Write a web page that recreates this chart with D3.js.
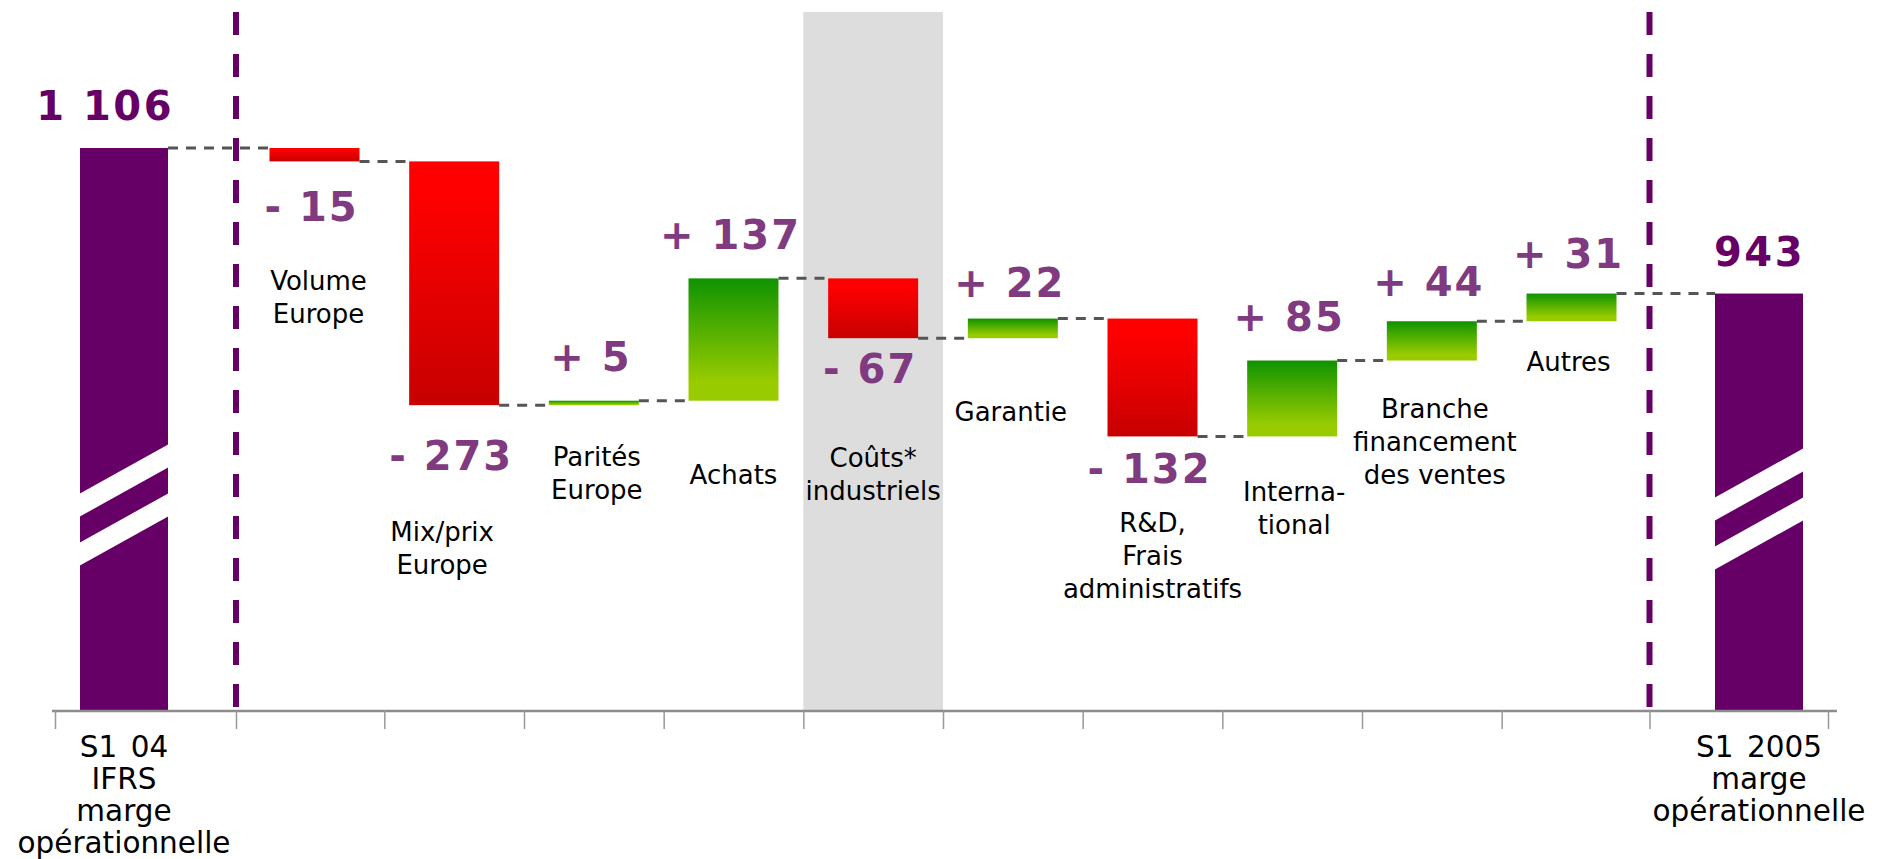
<!DOCTYPE html>
<html><head><meta charset="utf-8">
<script src="https://cdn.jsdelivr.net/npm/d3@7"></script>
<style>html,body{margin:0;padding:0;background:#fff;overflow:hidden}</style>
</head><body><svg id="chart" width="1887" height="859"></svg>
<script>
// ---------- DATA ----------
const startValue = 1106;
const endValue = 943;
const startCategory = ["S1 04", "IFRS", "marge", "opérationnelle"];
const endCategory = ["S1 2005", "marge", "opérationnelle"];
const stepCategories = [
  ["Volume", "Europe"],
  ["Mix/prix", "Europe"],
  ["Parités", "Europe"],
  ["Achats"],
  ["Coûts*", "industriels"],
  ["Garantie"],
  ["R&D,", "Frais", "administratifs"],
  ["Interna-", "tional"],
  ["Branche", "financement", "des ventes"],
  ["Autres"]
];
const stepValues = [-15, -273, 5, 137, -67, 22, -132, 85, 44, 31];
const highlightedStep = 4; // "Coûts* industriels" is shaded

// ---------- LAYOUT (styling only) ----------
const W = 1887, H = 859;
const axisY = 711;
const yFloor = 475.5;            // value at the broken axis baseline
const deltaLabelGap = [60, 65, 30, 29, 45, 22, 47, 30, 25, 26];
const catLabelGap = [129, 136, 61, 83, 129, 83, 96, 65, 57, 50];
const catLabelDx = [4, -12, 3, 0, 0, -2, 0, 2, 3, -3];
const purple = "#660066";
const labelPurple = "#7f3a80";
const font = "'DejaVu Sans', Verdana, sans-serif";

const fr = d3.formatLocale({decimal: ",", thousands: " ", grouping: [3], currency: ["", " €"]});
const fmtTotal = fr.format(",");
const fmtDelta = v => (v < 0 ? "- " : "+ ") + fmtTotal(Math.abs(v));

// running totals
const totals = [startValue];
stepValues.forEach(v => totals.push(totals[totals.length - 1] + v));

// scales
const x = d3.scaleLinear()
  .domain([-0.5, 0, 0.5, 1, 10, 10.5, 11, 11.5])
  .range([55, 124, 236, 314.5, 1571.5, 1649.5, 1759, 1828]);
const y = d3.scaleLinear().domain([yFloor, startValue]).range([axisY, 148]);

const svg = d3.select("#chart");
const defs = svg.append("defs");
const red = defs.append("linearGradient").attr("id", "gRed").attr("x1", 0).attr("y1", 0).attr("x2", 0).attr("y2", 1);
red.append("stop").attr("offset", "0").attr("stop-color", "#ff0000");
red.append("stop").attr("offset", "0.12").attr("stop-color", "#ff0000");
red.append("stop").attr("offset", "1").attr("stop-color", "#c80000");
const green = defs.append("linearGradient").attr("id", "gGreen").attr("x1", 0).attr("y1", 0).attr("x2", 0).attr("y2", 1);
green.append("stop").attr("offset", "0").attr("stop-color", "#0f9300");
green.append("stop").attr("offset", "0.85").attr("stop-color", "#99cc00");
green.append("stop").attr("offset", "1").attr("stop-color", "#99cc00");

// highlighted band
const hi = highlightedStep + 1;
svg.append("rect")
  .attr("x", x(hi - 0.5)).attr("y", 12)
  .attr("width", x(hi + 0.5) - x(hi - 0.5)).attr("height", axisY - 12)
  .attr("fill", "#dddddd");

// separators
[0.5, 10.5].forEach(p => {
  svg.append("line")
    .attr("x1", x(p)).attr("x2", x(p)).attr("y1", 12).attr("y2", axisY - 3)
    .attr("stroke", purple).attr("stroke-width", 6).attr("stroke-dasharray", "23 19");
});

// bar geometry
const totalW = 88, stepW = 90;
const bars = [];
bars.push({i: 0, x0: x(0) - totalW / 2, w: totalW, y0: y(startValue), y1: axisY, fill: purple});
stepValues.forEach((v, k) => {
  const a = totals[k], b = totals[k + 1];
  bars.push({i: k + 1, x0: x(k + 1) - stepW / 2, w: stepW, y0: y(Math.max(a, b)), y1: y(Math.min(a, b)),
    fill: v < 0 ? "url(#gRed)" : "url(#gGreen)", v});
});
bars.push({i: 11, x0: x(11) - totalW / 2, w: totalW, y0: y(endValue), y1: axisY, fill: purple});

// connectors
const conn = svg.append("g").attr("stroke", "#555").attr("stroke-width", 3).attr("stroke-dasharray", "10 8");
for (let k = 0; k < bars.length - 1; k++) {
  const lvl = y(totals[Math.min(k, totals.length - 1)]);
  conn.append("line")
    .attr("x1", bars[k].x0 + bars[k].w).attr("x2", bars[k + 1].x0)
    .attr("y1", lvl).attr("y2", lvl);
}

svg.append("g").selectAll("rect").data(bars).join("rect")
  .attr("x", d => d.x0).attr("y", d => d.y0)
  .attr("width", d => d.w).attr("height", d => Math.max(1, d.y1 - d.y0))
  .attr("fill", d => d.fill);

// axis break marks on total bars
const breaks = svg.append("g").attr("fill", "#fff");
[bars[0], bars[bars.length - 1]].forEach((b, j) => {
  const off = j === 0 ? 0 : 4;
  [494, 543].forEach(yl => {
    const y0 = yl + off;
    breaks.append("polygon").attr("points", [
      [b.x0 - 1, y0], [b.x0 + b.w + 1, y0 - 50], [b.x0 + b.w + 1, y0 - 27], [b.x0 - 1, y0 + 23]
    ].map(p => p.join(",")).join(" "));
  });
});

// axis
const axis = d3.axisBottom(x)
  .tickValues(d3.range(-0.5, 12, 1))
  .tickFormat("")
  .tickSizeInner(18).tickSizeOuter(0);
const ag = svg.append("g").attr("transform", `translate(0,${axisY})`).call(axis);
ag.select(".domain").attr("stroke", "#8c8c8c").attr("stroke-width", 2.5)
  .attr("d", `M52,0H1837`);
ag.selectAll(".tick line").attr("stroke", "#999").attr("stroke-width", 1.5);

// total labels
const totalsText = [[bars[0], startValue, 6], [bars[bars.length - 1], endValue, 2]];
totalsText.forEach(([b, v, dx]) => {
  svg.append("text")
    .attr("x", b.x0 + b.w + dx).attr("y", b.y0 - 28)
    .attr("text-anchor", "end")
    .attr("font-family", font).attr("font-weight", "bold").attr("font-size", 40)
    .attr("letter-spacing", 2.5).attr("fill", purple)
    .text(fmtTotal(v));
});

// delta labels
stepValues.forEach((v, k) => {
  const b = bars[k + 1];
  const yy = v < 0 ? b.y1 + deltaLabelGap[k] : b.y0 - deltaLabelGap[k];
  svg.append("text")
    .attr("x", x(k + 1) - 3).attr("y", yy)
    .attr("text-anchor", "middle")
    .attr("font-family", font).attr("font-weight", "bold").attr("font-size", 40)
    .attr("letter-spacing", 2).attr("fill", labelPurple)
    .text(fmtDelta(v));
});

// category labels
stepCategories.forEach((lines, k) => {
  const b = bars[k + 1];
  const t = svg.append("text")
    .attr("text-anchor", "middle")
    .attr("font-family", font).attr("font-size", 26).attr("fill", "#000");
  lines.forEach((ln, li) => {
    t.append("tspan").attr("x", x(k + 1) + catLabelDx[k]).attr("y", b.y1 + catLabelGap[k] + li * 33).text(ln);
  });
});

// axis category labels
[[0, startCategory], [11, endCategory]].forEach(([i, lines]) => {
  const t = svg.append("text")
    .attr("text-anchor", "middle")
    .attr("font-family", font).attr("font-size", 29.5).attr("fill", "#000")
    .attr("word-spacing", 4);
  lines.forEach((ln, li) => {
    t.append("tspan").attr("x", x(i)).attr("y", 757 + li * 32).text(ln);
  });
});
</script></body></html>
